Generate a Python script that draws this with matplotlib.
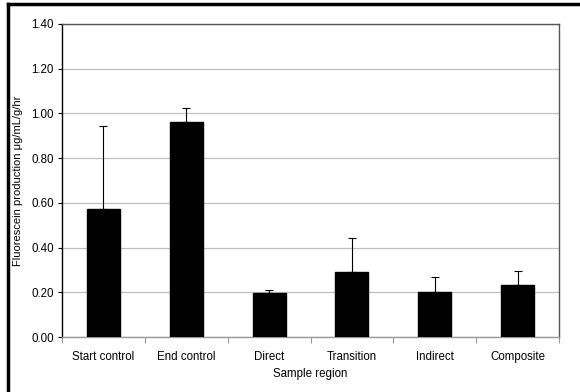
import numpy as np
import matplotlib.pyplot as plt
from matplotlib.lines import Line2D

plt.rcParams['font.family'] = ['Liberation Sans', 'DejaVu Sans']

regions = ["Start control", "End control", "Direct", "Transition", "Indirect", "Composite"]
means = [0.574, 0.961, 0.198, 0.292, 0.201, 0.231]
errors = [0.370, 0.062, 0.012, 0.151, 0.069, 0.063]

fig = plt.figure(figsize=(5.8, 3.92), dpi=100)
ax = fig.add_axes([0.1069, 0.1403, 0.8569, 0.7985])

x = np.arange(len(regions))
ax.bar(x, means, width=0.4, color="black", edgecolor="black", zorder=3)
ax.errorbar(x, means, yerr=[np.zeros(len(errors)), errors], fmt="none",
            ecolor="black", elinewidth=0.8, capsize=3, capthick=0.8, zorder=4)

ax.set_xlim(-0.5, len(regions) - 0.5)
ax.set_ylim(0, 1.4)
ax.set_yticks(np.arange(0, 1.41, 0.2))
ax.set_yticklabels([f"{v:.2f}" for v in np.arange(0, 1.41, 0.2)], fontsize=8.3)
ax.yaxis.grid(True, color="#c0c0c0", linewidth=0.9, zorder=0)

# category labels centred, tick marks on the category boundaries
ax.set_xticks(x)
ax.set_xticklabels(regions, fontsize=8.3)
ax.tick_params(axis="x", length=0, pad=10)
ax.set_xticks(np.arange(-0.5, len(regions)), minor=True)
ax.tick_params(axis="x", which="minor", length=4, color="#999999", width=0.8)
ax.tick_params(axis="y", length=3, width=0.8, pad=3)

ax.spines["left"].set_color("black")
ax.spines["bottom"].set_color("#999999")
ax.spines["top"].set_color("#555555")
ax.spines["right"].set_color("#555555")
for s in ax.spines.values():
    s.set_linewidth(1.0)

ax.set_xlabel("Sample region", fontsize=8.3, labelpad=3.5)
ax.set_ylabel("Fluorescein production \u03bcg/mL/g/hr", fontsize=8, labelpad=6)

# outer chart frame (only top and left edges fall inside the image)
fig.add_artist(Line2D([8 / 580, 1.0], [1 - 4 / 392, 1 - 4 / 392],
                      transform=fig.transFigure, color="black", linewidth=2.5))
fig.add_artist(Line2D([8 / 580, 8 / 580], [0.0, 1 - 4 / 392],
                      transform=fig.transFigure, color="black", linewidth=2.5))

fig.savefig("out.png", dpi=100)
